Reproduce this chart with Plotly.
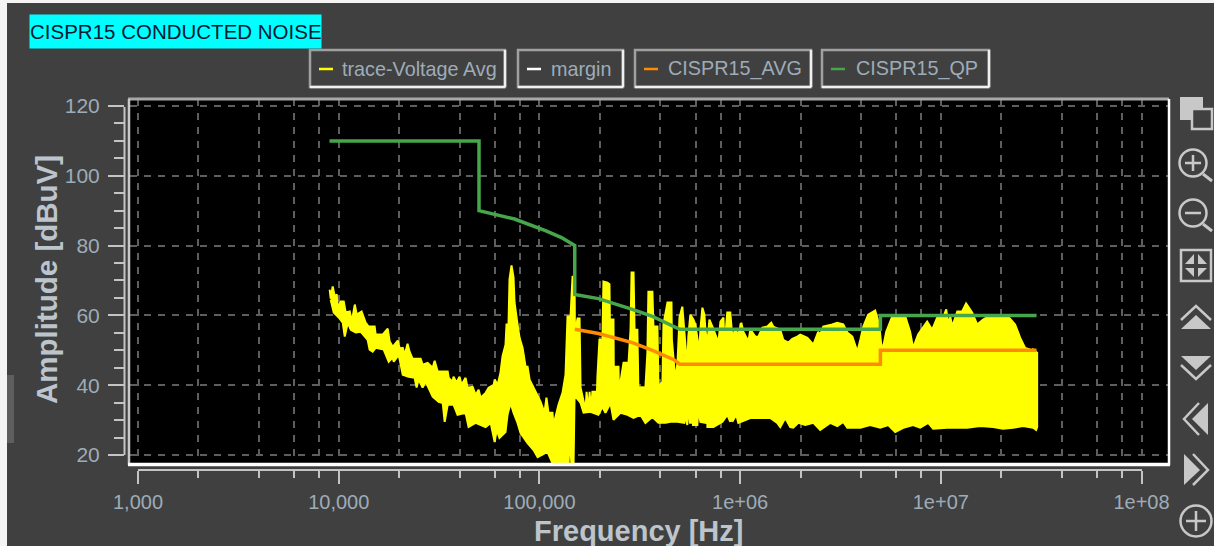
import plotly.graph_objects as go

# --- chart values ----------------------------------------------------------
title_text = "CISPR15 CONDUCTED NOISE"
x_title = "Frequency [Hz]"
y_title = "Amplitude [dBuV]"
legend_names = ["trace-Voltage Avg", "margin", "CISPR15_AVG", "CISPR15_QP"]
x_tick_vals = [1e3, 1e4, 1e5, 1e6, 1e7, 1e8]
x_tick_text = ["1,000", "10,000", "100,000", "1e+06", "1e+07", "1e+08"]
x_minor_vals = [m * d for d in (1e3, 1e4, 1e5, 1e6, 1e7) for m in (2, 4, 6, 8)]
y_tick_vals = [20, 40, 60, 80, 100, 120]

# trace-Voltage Avg: upper edge of the noise band (log10 Hz, dBuV)
upper_log = [3.955, 3.960, 3.970, 3.980, 3.990, 3.995, 4.010, 4.025, 4.035, 4.055,
             4.065, 4.080, 4.090, 4.114, 4.134, 4.149, 4.179, 4.184, 4.219, 4.244,
             4.254, 4.269, 4.294, 4.304, 4.319, 4.329, 4.343, 4.353, 4.368, 4.408,
             4.418, 4.443, 4.468, 4.478, 4.493, 4.543, 4.548, 4.567, 4.572, 4.587,
             4.602, 4.612, 4.632, 4.642, 4.667, 4.682, 4.697, 4.707, 4.732, 4.747,
             4.772, 4.777, 4.792, 4.806, 4.816, 4.831, 4.836, 4.846, 4.851, 4.861,
             4.871, 4.876, 4.891, 4.901, 4.916, 4.931, 4.941, 4.951, 4.981, 5.006,
             5.025, 5.035, 5.045, 5.065, 5.070, 5.080, 5.095, 5.115, 5.130, 5.140,
             5.155, 5.165, 5.175, 5.177, 5.190, 5.200, 5.202, 5.205, 5.230, 5.235,
             5.245, 5.250, 5.257, 5.264, 5.279, 5.284, 5.289, 5.299, 5.314, 5.319,
             5.339, 5.349, 5.351, 5.369, 5.371, 5.379, 5.394, 5.396, 5.419, 5.444,
             5.454, 5.459, 5.469, 5.474, 5.488, 5.493, 5.528, 5.538, 5.543, 5.563,
             5.568, 5.588, 5.593, 5.613, 5.618, 5.638, 5.658, 5.660, 5.673, 5.678,
             5.688, 5.698, 5.712, 5.717, 5.722, 5.732, 5.737, 5.742, 5.752, 5.767,
             5.777, 5.797, 5.802, 5.812, 5.822, 5.827, 5.837, 5.847, 5.862, 5.892,
             5.902, 5.917, 5.922, 5.936, 5.951, 5.961, 5.976, 5.991, 6.006, 6.016,
             6.041, 6.051, 6.076, 6.091, 6.111, 6.136, 6.155, 6.165, 6.200, 6.215,
             6.240, 6.260, 6.285, 6.300, 6.335, 6.365, 6.389, 6.399, 6.414, 6.459,
             6.484, 6.514, 6.534, 6.559, 6.584, 6.599, 6.614, 6.638, 6.673, 6.693,
             6.703, 6.713, 6.728, 6.758, 6.823, 6.847, 6.862, 6.887, 6.932, 6.957,
             6.982, 7.012, 7.027, 7.037, 7.047, 7.057, 7.082, 7.106, 7.126, 7.156,
             7.181, 7.211, 7.236, 7.335, 7.370, 7.395, 7.420, 7.445, 7.455, 7.460,
             7.475, 7.480]
upper_db = [67.4, 64.8, 68.3, 65.4, 66.0, 62.2, 64.0, 64.0, 60.8, 61.1,
            58.2, 63.1, 60.2, 61.1, 57.9, 56.8, 56.8, 54.5, 54.5, 56.2,
            52.5, 51.0, 52.8, 50.5, 50.7, 48.7, 51.9, 49.6, 47.6, 47.6,
            45.9, 46.4, 45.0, 47.0, 43.9, 43.9, 42.1, 41.0, 42.4, 40.7,
            42.4, 40.1, 42.1, 39.3, 39.5, 37.2, 38.7, 36.4, 37.8, 39.3,
            40.1, 41.6, 40.1, 43.6, 48.2, 51.6, 57.4, 57.4, 70.3, 74.3,
            70.9, 63.7, 57.4, 53.6, 50.7, 45.3, 45.3, 41.6, 38.1, 35.2,
            32.1, 36.4, 32.1, 32.1, 28.6, 30.9, 34.4, 37.8, 43.0, 59.7,
            59.7, 71.1, 71.1, 55.1, 59.1, 59.1, 46.4, 39.3, 32.9, 38.1,
            32.4, 38.1, 32.4, 38.1, 38.1, 32.9, 42.4, 53.0, 53.0, 69.7,
            69.4, 68.9, 58.8, 58.8, 38.7, 45.3, 45.3, 38.1, 46.4, 46.4,
            55.9, 72.3, 72.3, 55.9, 55.9, 39.5, 39.3, 49.3, 66.8, 66.8,
            56.8, 56.8, 39.5, 41.0, 57.4, 63.7, 63.7, 53.0, 44.4, 41.8,
            46.4, 59.4, 62.5, 59.4, 55.1, 50.2, 45.0, 53.9, 60.2, 58.8,
            57.4, 49.6, 55.9, 62.2, 60.2, 55.9, 51.6, 58.8, 56.8, 52.2,
            58.2, 59.4, 51.0, 60.8, 60.8, 53.9, 55.9, 54.5, 57.9, 55.3,
            52.5, 55.9, 53.9, 53.9, 56.5, 56.8, 57.9, 56.8, 55.9, 53.0,
            52.2, 53.3, 53.9, 54.5, 53.6, 51.6, 55.3, 54.5, 56.8, 57.4,
            57.9, 57.4, 55.1, 53.9, 49.6, 53.0, 56.8, 60.2, 61.4, 57.4,
            51.6, 51.0, 55.3, 59.7, 59.7, 55.3, 50.7, 54.5, 58.2, 55.9,
            59.4, 59.4, 61.7, 57.4, 59.7, 56.8, 61.1, 61.1, 63.4, 60.8,
            57.4, 58.8, 59.7, 59.7, 57.4, 53.6, 50.7, 50.2, 49.0, 50.2,
            49.3, 49.3]

# trace-Voltage Avg: lower edge of the noise band (log10 Hz, dBuV)
lower_log = [3.960, 3.975, 4.000, 4.020, 4.030, 4.045, 4.060, 4.085, 4.110, 4.144,
             4.154, 4.169, 4.184, 4.224, 4.249, 4.269, 4.274, 4.299, 4.319, 4.348,
             4.378, 4.388, 4.398, 4.418, 4.433, 4.468, 4.498, 4.518, 4.528, 4.543,
             4.572, 4.592, 4.632, 4.647, 4.682, 4.732, 4.757, 4.777, 4.787, 4.801,
             4.831, 4.841, 4.856, 4.871, 4.891, 4.906, 4.941, 4.971, 4.991, 5.040,
             5.070, 5.145, 5.150, 5.160, 5.170, 5.175, 5.180, 5.205, 5.220, 5.254,
             5.294, 5.314, 5.329, 5.354, 5.369, 5.404, 5.439, 5.469, 5.503, 5.528,
             5.563, 5.593, 5.628, 5.653, 5.688, 5.722, 5.727, 5.737, 5.742, 5.750,
             5.760, 5.762, 5.765, 5.787, 5.792, 5.802, 5.827, 5.832, 5.837, 5.867,
             5.912, 5.936, 5.951, 5.956, 5.961, 5.981, 5.991, 6.051, 6.086, 6.116,
             6.150, 6.185, 6.200, 6.225, 6.250, 6.265, 6.290, 6.325, 6.365, 6.399,
             6.449, 6.484, 6.514, 6.534, 6.599, 6.648, 6.698, 6.738, 6.773, 6.813,
             6.862, 6.897, 6.937, 6.962, 7.032, 7.131, 7.196, 7.261, 7.310, 7.360,
             7.410, 7.460, 7.475, 7.480]
lower_db = [64.5, 60.8, 59.4, 57.9, 53.9, 57.9, 55.9, 55.1, 55.3, 53.0,
            50.2, 49.6, 50.7, 50.2, 46.7, 47.9, 46.7, 48.7, 43.0, 42.4,
            42.1, 39.3, 41.6, 39.3, 41.0, 36.7, 35.2, 34.9, 29.5, 34.4,
            34.4, 31.5, 32.1, 28.0, 29.2, 28.0, 29.2, 23.7, 27.2, 24.9,
            26.6, 31.5, 34.9, 32.1, 29.2, 26.3, 23.4, 21.4, 19.4, 20.9,
            17.0, 17.0, 25.7, 17.0, 17.0, 36.7, 36.7, 34.9, 32.1, 32.4,
            31.5, 33.8, 32.1, 34.9, 30.1, 32.1, 31.5, 30.6, 31.5, 29.2,
            30.9, 29.2, 29.2, 29.5, 29.5, 29.2, 31.5, 28.6, 35.2, 29.2,
            29.2, 41.0, 28.6, 28.6, 33.5, 29.5, 29.2, 43.9, 28.0, 28.0,
            29.5, 31.5, 29.5, 41.6, 29.5, 31.5, 29.2, 30.6, 30.6, 30.6,
            30.6, 29.2, 28.0, 30.6, 28.0, 27.8, 29.2, 28.6, 29.2, 27.2,
            29.2, 28.3, 29.5, 27.8, 27.8, 28.6, 27.8, 28.6, 26.6, 27.8,
            28.6, 27.8, 29.2, 27.5, 27.8, 27.8, 28.3, 28.0, 27.5, 27.8,
            28.3, 27.8, 27.2, 28.0]

qp_log = [3.954, 4.699, 4.699, 4.777, 4.876, 5.033, 5.110, 5.176, 5.176, 5.294, 5.340, 5.463, 5.563, 5.699, 6.699, 6.699, 7.477]
qp_db = [110, 110, 90, 89, 87.6, 84.2, 82.3, 80, 66, 64.8, 64, 61.7, 59.7, 56, 56, 60, 60]
avg_log = [5.176, 5.294, 5.463, 5.563, 5.670, 5.699, 6.699, 6.699, 7.477]
avg_db = [56, 54.8, 52.2, 50, 47.3, 46, 46, 50, 50]

# --- styles ----------------------------------------------------------------
BG = "#404040"
TICK = "#c4c4c4"
LABEL = "#9eacb8"
TITLE = "#bcc4cc"
GRID = "#5e5e5e"
ICON = "#c8c8c8"
FONT = "Liberation Sans"
YELLOW = "#ffff00"
ORANGE = "#ff8c00"
GREEN = "#46a64c"
DASH = "7px,7px"
L, R, T, B = 124, 1168, 99, 470


def X(p):
    return (p - L) / (R - L)


def Y(p):
    return (B - p) / (B - T)


def hz(values):
    return [10 ** v for v in values]


band_x = hz(upper_log) + hz(lower_log[::-1])
band_y = upper_db + lower_db[::-1]

fig = go.Figure()
fig.add_trace(go.Scatter(x=band_x, y=band_y, mode="lines", fill="toself", fillcolor=YELLOW,
                         line=dict(color=YELLOW, width=2), name=legend_names[0], showlegend=False))
fig.add_trace(go.Scatter(x=hz(avg_log), y=avg_db, mode="lines", line=dict(color=ORANGE, width=3.5),
                         name=legend_names[2], showlegend=False))
fig.add_trace(go.Scatter(x=hz(qp_log), y=qp_db, mode="lines", line=dict(color=GREEN, width=3.5),
                         name=legend_names[3], showlegend=False))

shapes = []


def rect(x0, y0, x1, y1, fill=None, line=None, w=0, layer="above"):
    shapes.append(dict(type="rect", xref="paper", yref="paper", x0=X(x0), x1=X(x1), y0=Y(y0), y1=Y(y1),
                       fillcolor=fill if fill else "rgba(0,0,0,0)",
                       line=dict(color=line if line else "rgba(0,0,0,0)", width=w), layer=layer))


def seg(x0, y0, x1, y1, color, w):
    shapes.append(dict(type="line", xref="paper", yref="paper", x0=X(x0), x1=X(x1), y0=Y(y0), y1=Y(y1),
                       line=dict(color=color, width=w), layer="above"))


def circle(cx, cy, r, color, w):
    shapes.append(dict(type="circle", xref="paper", yref="paper", x0=X(cx - r), x1=X(cx + r), y0=Y(cy + r),
                       y1=Y(cy - r), line=dict(color=color, width=w), layer="above"))


def poly(points, fill=None, color=None, w=0):
    d = "M" + " L".join(f"{X(a):.5f},{Y(b):.5f}" for a, b in points) + (" Z" if fill else "")
    shapes.append(dict(type="path", xref="paper", yref="paper", path=d,
                       fillcolor=fill if fill else "rgba(0,0,0,0)",
                       line=dict(color=color if color else "rgba(0,0,0,0)", width=w), layer="above"))


# window edges and left handle
rect(0, 0, 7, 546, fill="#f4f4f4")
rect(0, 0, 1214, 3, fill="#f4f4f4")
rect(7, 375, 14, 443, fill="#5e5e5e")

# plot frame and detached axis lines
seg(128, 99, 1169, 99, "#a8a8a8", 3)
seg(129, 99, 129, 465, "#c8c8c8", 2.5)
seg(1169, 99, 1169, 465, "#ffffff", 2.5)
seg(128, 464.5, 1170, 464.5, "#ffffff", 3.5)
seg(124.5, 107, 124.5, 455, TICK, 2)
seg(138, 470, 1142, 470, TICK, 2)

# legend boxes
boxes = [(310, 505, 319, 333, YELLOW), (518, 623, 527, 541, "#ffffff"),
         (635, 811, 644, 658, ORANGE), (822, 989, 831, 845, GREEN)]
for x0, x1, s0, s1, col in boxes:
    rect(x0, 50, x1, 87, line="#a0a0a0", w=2.5)
    seg(x0, 87, x1, 87, "#f0f0f0", 2.5)
    seg(x1, 50, x1, 87, "#f0f0f0", 2.5)
    seg(s0, 69, s1, 69, col, 2.5)

# toolbar icons
rect(1180, 97, 1203, 120, fill=ICON)
rect(1192, 109, 1212, 129, fill=BG, line=ICON, w=2.5)
circle(1193, 163, 13.5, ICON, 2.5)
seg(1185, 163, 1201, 163, ICON, 2.5)
seg(1193, 155, 1193, 171, ICON, 2.5)
seg(1203, 174, 1212, 181, ICON, 3)
circle(1193, 213, 13.5, ICON, 2.5)
seg(1185, 213, 1201, 213, ICON, 2.5)
seg(1203, 224, 1212, 231, ICON, 3)
rect(1181, 250, 1211, 281, line=ICON, w=2.5)
poly([(1194, 254), (1194, 264), (1185, 264)], fill=ICON)
poly([(1198, 254), (1198, 264), (1207, 264)], fill=ICON)
poly([(1194, 277), (1194, 268), (1185, 268)], fill=ICON)
poly([(1198, 277), (1198, 268), (1207, 268)], fill=ICON)
poly([(1181, 329), (1196, 315), (1211, 329)], fill=ICON)
poly([(1181, 320), (1196, 306), (1211, 320)], color=ICON, w=2.5)
poly([(1181, 356), (1211, 356), (1196, 370)], fill=ICON)
poly([(1181, 365), (1196, 379), (1211, 365)], color=ICON, w=2.5)
poly([(1208, 403), (1208, 435), (1192, 419)], fill=ICON)
poly([(1199, 403), (1184, 419), (1199, 435)], color=ICON, w=2.5)
poly([(1184, 454), (1184, 485), (1200, 470)], fill=ICON)
poly([(1193, 454), (1208, 470), (1193, 485)], color=ICON, w=2.5)
circle(1196, 521, 15.5, ICON, 2.5)
seg(1186, 521, 1206, 521, ICON, 2.5)
seg(1196, 511, 1196, 531, ICON, 2.5)

annotations = [
    dict(text=title_text, x=X(29), y=Y(31.5), xref="paper", yref="paper", xanchor="left", yanchor="middle",
         showarrow=False, font=dict(family=FONT, size=20.5, color="#001a33"), bgcolor="#00ffff",
         width=291, height=33, align="left", borderpad=0),
    dict(text=x_title, x=X(638), y=Y(531), xref="paper", yref="paper", xanchor="center", yanchor="middle",
         showarrow=False, font=dict(family=FONT, size=29, color=TITLE, weight="bold")),
    dict(text=y_title, x=X(46), y=Y(280), xref="paper", yref="paper", xanchor="center", yanchor="middle",
         textangle=-90, showarrow=False, font=dict(family=FONT, size=29.5, color=TITLE, weight="bold")),
]
for name, px in zip(legend_names, (340, 549, 666, 854)):
    annotations.append(dict(text=name, x=X(px), y=Y(68.5), xref="paper", yref="paper", xanchor="left",
                            yanchor="middle", showarrow=False, font=dict(family=FONT, size=19.8, color=LABEL)))

fig.update_layout(
    width=1214, height=546, autosize=False, showlegend=False,
    margin=dict(l=L, r=1214 - R, t=T, b=546 - B, pad=0, autoexpand=False),
    paper_bgcolor=BG, plot_bgcolor="#000000", shapes=shapes, annotations=annotations,
    xaxis=dict(type="log", range=[2.960, 8.132], domain=[X(130), 1], anchor="free", position=0,
               tickmode="array", tickvals=x_tick_vals, ticktext=x_tick_text, ticks="outside", ticklen=13,
               tickwidth=2, tickcolor=TICK, showline=False, zeroline=False, ticklabelstandoff=1,
               tickfont=dict(family=FONT, size=20, color=LABEL), tickangle=0,
               showgrid=True, gridcolor=GRID, griddash=DASH, gridwidth=1.5,
               minor=dict(tickmode="array", tickvals=x_minor_vals, ticks="outside", ticklen=7, tickwidth=2,
                          tickcolor=TICK, showgrid=True, gridcolor=GRID, griddash=DASH, gridwidth=1.5)),
    yaxis=dict(range=[17.7, 122.0], domain=[Y(463), 1], anchor="free", position=0,
               tickmode="array", tickvals=y_tick_vals, ticks="outside", ticklen=16, tickwidth=2,
               tickcolor=TICK, showline=False, zeroline=False, ticklabelstandoff=4,
               tickfont=dict(family=FONT, size=21, color=LABEL),
               showgrid=True, gridcolor=GRID, griddash=DASH, gridwidth=1.5,
               minor=dict(tick0=0, dtick=5, ticks="outside", ticklen=10, tickwidth=2, tickcolor=TICK,
                          showgrid=False)),
)

fig.write_html("out.html", config=dict(displayModeBar=False),
               post_script="document.body.style.margin='0';document.body.style.overflow='hidden';")
